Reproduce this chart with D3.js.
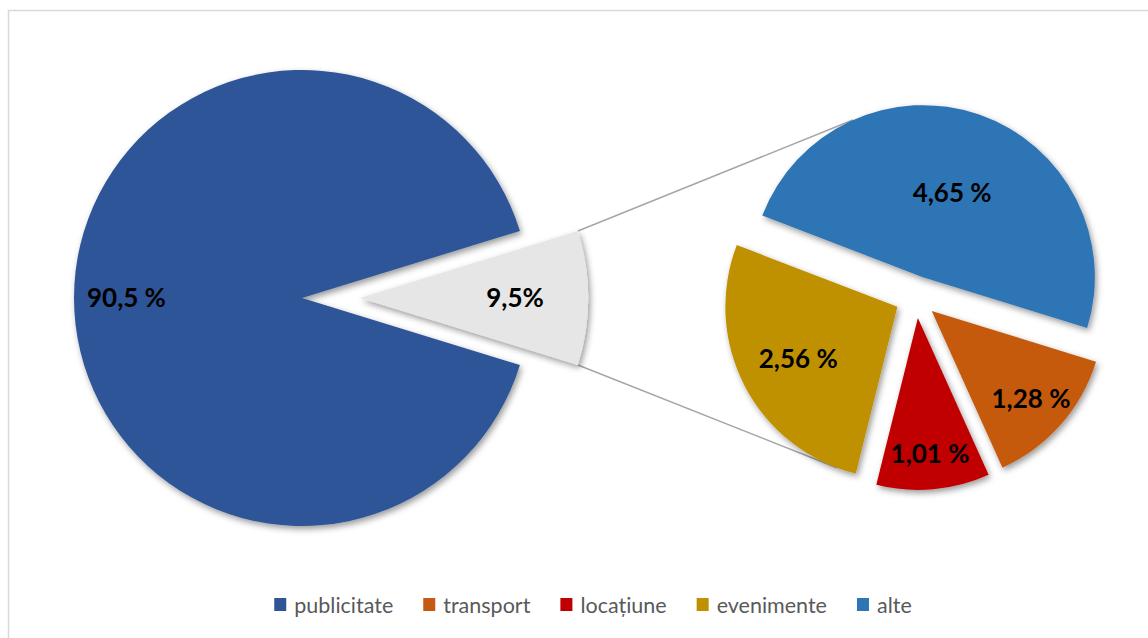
<!DOCTYPE html>
<html>
<head>
<meta charset="utf-8">
<script src="https://cdn.jsdelivr.net/npm/d3@7"></script>
<style>
  body { margin: 0; background: #fff; }
  svg { display: block; font-family: Lato, "Open Sans", sans-serif; }
</style>
</head>
<body>
<svg id="chart" width="1148" height="638"></svg>
<script>
// Data
const mainCategories = ["publicitate", "altele"];
const mainValues = [90.5, 9.5];
const mainLabels = ["90,5 %", "9,5%"];

const subCategories = ["alte", "transport", "locațiune", "evenimente"];
const subValues = [4.65, 1.28, 1.01, 2.56];
const subLabels = ["4,65 %", "1,28 %", "1,01 %", "2,56 %"];

const legendItems = ["publicitate", "transport", "locațiune", "evenimente", "alte"];

const color = d3.scaleOrdinal()
  .domain(["publicitate", "altele", "alte", "transport", "locațiune", "evenimente"])
  .range(["#2F5597", "#E6E6E6", "#2E75B6", "#C55A11", "#C00000", "#BF9000"]);

// Layout
const main = {cx: 302, cy: 298, r: 228, explode: [0, 58], labelR: [0.77, 0.68]};
const sub = {cx: 916, cy: 297, r: 172, explode: 21, labelR: [0.52, 0.77, 0.79, 0.65]};
const deg = Math.PI / 180;

const svg = d3.select("#chart");

// drop shadow
const defs = svg.append("defs");
defs.append("filter")
  .attr("id", "shadow")
  .attr("x", "-20%").attr("y", "-20%").attr("width", "140%").attr("height", "140%")
  .append("feDropShadow")
  .attr("dx", 2).attr("dy", 3)
  .attr("stdDeviation", 3)
  .attr("flood-color", "#000")
  .attr("flood-opacity", 0.4);

// chart border
svg.append("rect")
  .attr("x", 8.5).attr("y", 10.5)
  .attr("width", 1160).attr("height", 640)
  .attr("fill", "none")
  .attr("stroke", "#d9d9d9")
  .attr("stroke-width", 1.5);

// offset of a slice along its bisector
function shift(d, dist) {
  const a = (d.startAngle + d.endAngle) / 2;
  return [Math.sin(a) * dist, -Math.cos(a) * dist];
}

// Main pie: "other" slice centred on the 3 o'clock direction
const otherShare = mainValues[1] / d3.sum(mainValues);
const mainPie = d3.pie().sort(null)
  .startAngle(Math.PI / 2 + otherShare * Math.PI)
  .endAngle(Math.PI / 2 + otherShare * Math.PI + 2 * Math.PI);
const mainArcs = mainPie(mainValues);
const mainArc = d3.arc().innerRadius(0).outerRadius(main.r);

// Secondary pie
const subPie = d3.pie().sort(null)
  .startAngle(-69 * deg)
  .endAngle(-69 * deg + 2 * Math.PI);
const subArcs = subPie(subValues);
const subArc = d3.arc().innerRadius(0).outerRadius(sub.r);

// connector lines (drawn first, behind slices)
const other = mainArcs[1];
const [ox, oy] = shift(other, main.explode[1]);
const gx = main.cx + ox, gy = main.cy + oy;
const cornerTop = [gx + Math.sin(other.startAngle) * main.r, gy - Math.cos(other.startAngle) * main.r];
const cornerBot = [gx + Math.sin(other.endAngle) * main.r, gy - Math.cos(other.endAngle) * main.r];

function subPoint(i, angleDeg) {
  const [sx, sy] = shift(subArcs[i], sub.explode);
  return [sub.cx + sx + Math.sin(angleDeg * deg) * sub.r,
          sub.cy + sy - Math.cos(angleDeg * deg) * sub.r];
}
const endTop = subPoint(0, -24);
const endBot = subPoint(3, 200.5);

svg.append("g").selectAll("line")
  .data([[cornerTop, endTop], [cornerBot, endBot]])
  .enter().append("line")
  .attr("x1", d => d[0][0]).attr("y1", d => d[0][1])
  .attr("x2", d => d[1][0]).attr("y2", d => d[1][1])
  .attr("stroke", "#a6a6a6")
  .attr("stroke-width", 1.5);

// main slices
const gMain = svg.append("g").attr("transform", `translate(${main.cx},${main.cy})`);
gMain.selectAll("path")
  .data(mainArcs)
  .enter().append("path")
  .attr("d", mainArc)
  .attr("transform", (d, i) => `translate(${shift(d, main.explode[i])})`)
  .attr("fill", (d, i) => color(mainCategories[i]))
  .attr("filter", "url(#shadow)");

gMain.selectAll("text")
  .data(mainArcs)
  .enter().append("text")
  .attr("transform", (d, i) => {
    const [sx, sy] = shift(d, main.explode[i]);
    const [lx, ly] = shift(d, main.r * main.labelR[i]);
    return `translate(${sx + lx},${sy + ly})`;
  })
  .attr("text-anchor", "middle")
  .attr("dy", "0.36em")
  .attr("font-size", 26)
  .attr("font-weight", "bold")
  .attr("fill", "#000")
  .text((d, i) => mainLabels[i]);

// secondary slices
const gSub = svg.append("g").attr("transform", `translate(${sub.cx},${sub.cy})`);
gSub.selectAll("path")
  .data(subArcs)
  .enter().append("path")
  .attr("d", subArc)
  .attr("transform", d => `translate(${shift(d, sub.explode)})`)
  .attr("fill", (d, i) => color(subCategories[i]))
  .attr("filter", "url(#shadow)");

gSub.selectAll("text")
  .data(subArcs)
  .enter().append("text")
  .attr("transform", (d, i) => {
    const [sx, sy] = shift(d, sub.explode);
    const [lx, ly] = shift(d, sub.r * sub.labelR[i]);
    return `translate(${sx + lx},${sy + ly})`;
  })
  .attr("text-anchor", "middle")
  .attr("dy", "0.36em")
  .attr("font-size", 26)
  .attr("font-weight", "bold")
  .attr("fill", "#000")
  .text((d, i) => subLabels[i]);

// legend
const legend = svg.append("g");
const items = legend.selectAll("g")
  .data(legendItems)
  .enter().append("g");

items.append("rect")
  .attr("width", 12).attr("height", 13)
  .attr("y", 598)
  .attr("fill", d => color(d));

items.append("text")
  .attr("y", 613)
  .attr("font-size", 21.5)
  .attr("fill", "#595959")
  .text(d => d);

let xPos = 0;
const pos = [];
items.each(function() {
  const w = d3.select(this).select("text").node().getComputedTextLength();
  pos.push(xPos);
  xPos += 12 + 8 + w + 30;
});
const totalW = xPos - 30;
const startX = 593 - totalW / 2;
items.each(function(d, i) {
  const g = d3.select(this);
  g.select("rect").attr("x", startX + pos[i]);
  g.select("text").attr("x", startX + pos[i] + 20);
});
</script>
</body>
</html>
